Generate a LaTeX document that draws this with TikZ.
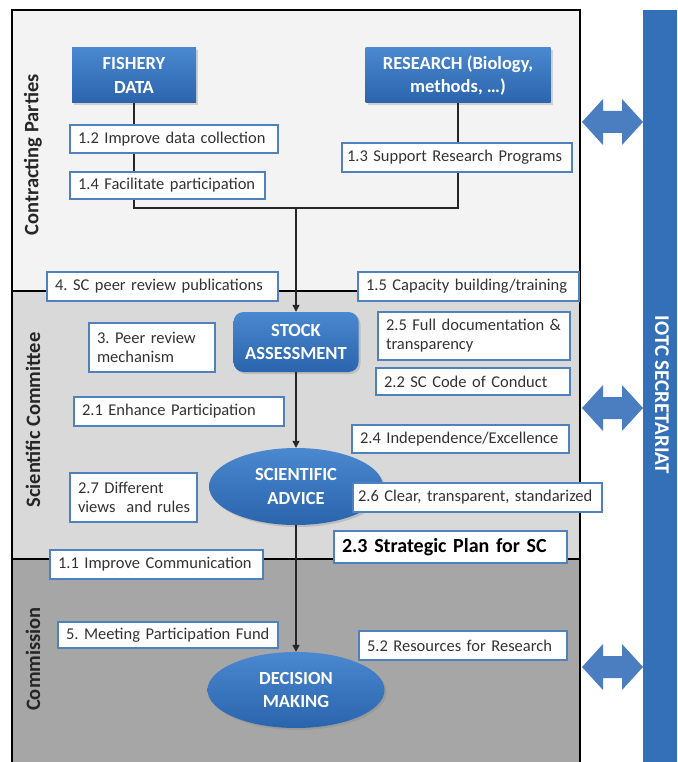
\documentclass[tikz,border=0pt]{standalone}
\usepackage{fontspec}
\setmainfont{Carlito}
\usetikzlibrary{shapes.geometric,arrows.meta,shadows}
\frenchspacing
\definecolor{cpband}{HTML}{F3F3F3}
\definecolor{scband}{HTML}{D9D9D9}
\definecolor{cmband}{HTML}{A6A6A6}
\definecolor{nodetop}{HTML}{4A88CF}
\definecolor{nodebot}{HTML}{2A64AD}
\definecolor{barblue}{HTML}{3470B8}
\definecolor{arrblue}{HTML}{4A7EC0}
\definecolor{boxline}{HTML}{4F81BD}
\definecolor{boxtext}{HTML}{333333}
\tikzset{
 tbox/.style={draw=boxline, line width=1.1pt, fill=white, align=left, inner xsep=8pt, inner ysep=0pt, text=boxtext, font=\fontsize{16.5}{19}\selectfont},
 bluenode/.style={top color=nodetop, bottom color=nodebot, draw=none, text=white, align=center, font=\bfseries\fontsize{18.5}{23.5}\selectfont, inner sep=0pt, drop shadow={opacity=0.3, shadow xshift=2pt, shadow yshift=-2pt}},
 flow/.style={draw=black!85, line width=1.3pt},
 flowarrow/.style={flow, -{Triangle[length=7pt,width=7pt]}},
 sidelabel/.style={rotate=90, font=\bfseries\fontsize{20.5}{24}\selectfont, text=black!85},
 dblarrow/.style={fill=arrblue, draw=none},
}
\newcommand\mydblarrow[1]{\fill[dblarrow] (582,#1) -- (603,#1-23) -- (603,#1-11) -- (622,#1-11) -- (622,#1-23) -- (643,#1) -- (622,#1+23) -- (622,#1+11) -- (603,#1+11) -- (603,#1+23) -- cycle;}
\begin{document}
\begin{tikzpicture}[x=1pt,y=-1pt]
\useasboundingbox (0,0) rectangle (677,762);
% bands
\fill[cpband] (12,10) rectangle (580,291);
\fill[scband] (12,291) rectangle (580,559);
\fill[cmband] (12,559) rectangle (580,762);
\draw[line width=1.5pt] (12,762) -- (12,10) -- (580,10) -- (580,762);
\draw[line width=2pt] (12,291) -- (580,291);
\draw[line width=2pt] (12,559) -- (580,559);
% side labels
\node[sidelabel] (lcp) at (33,155) {Contracting Parties};
\node[sidelabel] (lsc) at (33,420) {Scientific Committee};
\node[sidelabel] (lcm) at (33,659) {Commission};
% secretariat bar
\fill[barblue] (643,10) rectangle (677,762);
\node[rotate=-90, text=white, font=\bfseries\fontsize{21}{23}\selectfont] (iotc) at (662,395) {IOTC SECRETARIAT};
% double arrows
\mydblarrow{122}
\mydblarrow{408}
\mydblarrow{667}
% blue nodes
\node[bluenode, rectangle, minimum width=124pt, minimum height=55pt] (fish) at (134,75.5) {FISHERY\\DATA};
\node[bluenode, rectangle, minimum width=185pt, minimum height=55pt] (res) at (458,75.5) {RESEARCH (Biology,\\methods, …)};
\node[bluenode, rectangle, rounded corners=10pt, minimum width=125pt, minimum height=60pt] (stock) at (296,342) {STOCK\\ASSESSMENT};
\node[bluenode, ellipse, minimum width=174pt, minimum height=77pt] (sci) at (296,486.5) {SCIENTIFIC\\ADVICE};
\node[bluenode, ellipse, minimum width=177pt, minimum height=76pt] (dec) at (296,690) {DECISION\\MAKING};
% connectors
\coordinate (j1) at (134,208);
\coordinate (j2) at (458,208);
\coordinate (j0) at (296,208);
\draw[flow] (fish.south) -- (j1) -- (j2) -- (res.south);
\draw[flowarrow] (j0) -- (stock.north);
\draw[flowarrow] (stock.south) -- (sci.north);
\draw[flowarrow] (sci.south) -- (dec.north);
% text boxes
\node[tbox, minimum height=28pt, text width=192pt] (b12) at (174,139) {\mbox{1.2 Improve data collection}};
\node[tbox, minimum height=27pt, text width=179pt] (b14) at (167.5,185.5) {\mbox{1.4 Facilitate participation}};
\node[tbox, minimum height=29pt, text width=220pt, inner xsep=5pt] (b13) at (457,157.5) {\mbox{1.3 Support Research Programs}};
\node[tbox, minimum height=29pt, text width=215pt] (b4) at (162.5,286.5) {\mbox{4. SC peer review publications}};
\node[tbox, minimum height=29pt, text width=205pt] (b15) at (468.5,286.5) {\mbox{1.5 Capacity building/training}};
\node[tbox, minimum height=49pt, text width=110pt] (b3) at (152,347.5) {\mbox{3. Peer review}\\\mbox{mechanism}};
\node[tbox, minimum height=48pt, text width=176pt] (b25) at (474,336) {\mbox{2.5 Full documentation \&}\\\mbox{transparency}};
\node[tbox, minimum height=27pt, text width=178pt] (b22) at (473,381.5) {\mbox{2.2 SC Code of Conduct}};
\node[tbox, minimum height=29pt, text width=194pt] (b21) at (179,411.5) {\mbox{2.1 Enhance Participation}};
\node[tbox, minimum height=28pt, text width=201pt] (b24) at (460.5,439) {\mbox{2.4 Independence/Excellence}};
\node[tbox, minimum height=49pt, text width=111pt] (b27) at (133.5,497.5) {\mbox{2.7 Different}\\\mbox{views\ \ and rules}};
\node[tbox, minimum height=29pt, text width=239pt, inner xsep=5pt] (b26) at (477.5,497.5) {\mbox{2.6 Clear, transparent, standarized}};
\node[tbox, minimum height=32pt, text width=217pt, text=black, font=\bfseries\fontsize{20}{22}\selectfont] (b23) at (450.5,547) {\mbox{2.3 Strategic Plan for SC}};
\node[tbox, minimum height=29pt, text width=197pt] (b11) at (156.5,564.5) {\mbox{1.1 Improve Communication}};
\node[tbox, minimum height=26pt, text width=204pt] (b5) at (168,635) {\mbox{5. Meeting Participation Fund}};
\node[tbox, minimum height=29pt, text width=192pt] (b52) at (463,645.5) {\mbox{5.2 Resources for Research}};
\end{tikzpicture}
\end{document}
